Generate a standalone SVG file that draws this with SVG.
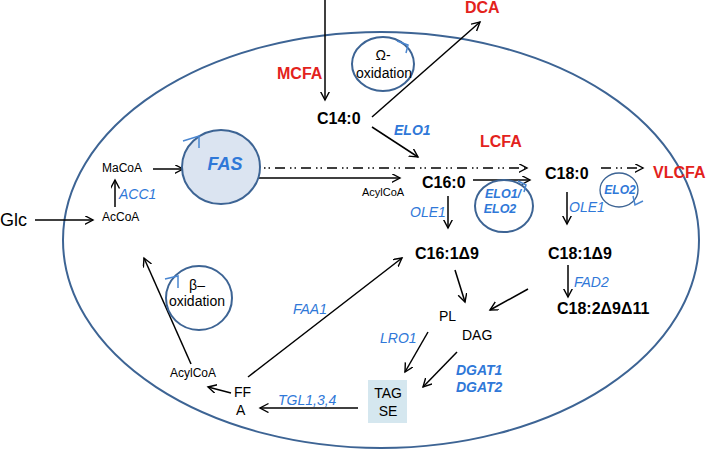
<svg xmlns="http://www.w3.org/2000/svg" width="708" height="450" viewBox="0 0 708 450">
<defs>
<marker id="ah" markerWidth="11" markerHeight="11" refX="8.5" refY="4.5" orient="auto" markerUnits="userSpaceOnUse">
<path d="M0,0 L8.5,4.5 L0,9" fill="none" stroke="#000" stroke-width="1.4"/>
</marker>
<style>
text{font-family:"Liberation Sans",Arial,sans-serif}
.c{fill:none;stroke:#000;stroke-width:1.5;marker-end:url(#ah)}
.dd{fill:none;stroke:#000;stroke-width:1.5;stroke-dasharray:10 5 1.5 3 1.5 5;marker-end:url(#ah)}
.cyc{fill:none;stroke:#3d6494;stroke-width:2}
.tick{fill:none;stroke:#4a86d0;stroke-width:1.5}
.b{font-weight:bold;font-size:16px;fill:#000}
.red{font-weight:bold;font-size:16px;fill:#e3221c}
.gi{font-style:italic;font-size:14px;fill:#2f78d8}
.gbi{font-style:italic;font-weight:bold;font-size:14px;fill:#2f78d8}
.n{font-size:12px;fill:#000}
.m{font-size:14px;fill:#000}
</style>
</defs>
<rect width="708" height="450" fill="#fff"/>
<g id="cell"><ellipse cx="381" cy="240" rx="318" ry="208" fill="none" stroke="#3d6494" stroke-width="2"/></g>

<g id="connectors">
<line class="c" x1="325" y1="0" x2="325" y2="100"/>
<line class="c" x1="372" y1="117" x2="480" y2="22"/>
<line class="c" x1="372" y1="127" x2="418" y2="157"/>
<line class="c" x1="35" y1="220" x2="93" y2="220"/>
<line class="c" x1="115" y1="207" x2="115" y2="180"/>
<line class="c" x1="153" y1="169" x2="183" y2="169"/>
<line class="dd" x1="249" y1="168" x2="527" y2="168"/>
<line class="c" x1="249" y1="178" x2="400" y2="178"/>
<line class="c" x1="473" y1="180" x2="530" y2="180"/>
<line class="dd" x1="601" y1="168" x2="643" y2="168"/>
<line class="c" x1="448" y1="196" x2="448" y2="228"/>
<line class="c" x1="567" y1="192" x2="567" y2="224"/>
<line class="c" x1="568" y1="265" x2="568" y2="297"/>
<line class="c" x1="455" y1="270" x2="465" y2="302"/>
<line class="c" x1="528" y1="289" x2="490" y2="310"/>
<line class="c" x1="428" y1="332" x2="405" y2="372"/>
<line class="c" x1="457" y1="352" x2="423" y2="387"/>
<line class="c" x1="358" y1="408" x2="260" y2="408"/>
<line class="c" x1="231" y1="393" x2="208" y2="387"/>
<line class="c" x1="248" y1="377" x2="402" y2="258"/>
<line class="c" x1="191" y1="364" x2="144" y2="258"/>
</g>

<g id="omega-oxidation">
<ellipse class="cyc" cx="383" cy="64" rx="31" ry="27"/>
<path class="tick" d="M397,41 L408,45 L406,53"/>
<text x="383" y="60" text-anchor="middle" class="m">Ω-</text>
<text x="384" y="78" text-anchor="middle" class="m">oxidation</text>
</g>
<g id="fas">
<ellipse cx="221" cy="167" rx="39" ry="37" fill="#dbe4f1" stroke="#3d6494" stroke-width="2"/>
<path class="tick" d="M183,141 L199,136 L199,148"/>
<text x="225" y="170" text-anchor="middle" font-size="18" font-weight="bold" font-style="italic" fill="#2f78d8">FAS</text>
</g>
<g id="beta-oxidation">
<ellipse class="cyc" cx="199" cy="298" rx="33" ry="32"/>
<path class="tick" d="M165,279 L178,276 L178,288"/>
<text x="197" y="290" text-anchor="middle" class="m">β–</text>
<text x="197" y="306" text-anchor="middle" class="m">oxidation</text>
</g>
<g id="elo1-elo2">
<ellipse class="cyc" cx="504" cy="206" rx="29" ry="26"/>
<path class="tick" d="M518,181 L526,185 L524,192"/>
<text x="503" y="198" text-anchor="middle" font-size="12.5" font-weight="bold" font-style="italic" fill="#2f78d8">ELO1/</text>
<text x="500" y="213" text-anchor="middle" font-size="12.5" font-weight="bold" font-style="italic" fill="#2f78d8">ELO2</text>
</g>
<g id="elo2">
<ellipse cx="619" cy="190" rx="19" ry="17" fill="none" stroke="#3d6494" stroke-width="1.3"/>
<path class="tick" d="M633,196 L635,205 L643,201"/>
<text x="620" y="194" text-anchor="middle" font-size="12" font-weight="bold" font-style="italic" fill="#2f78d8">ELO2</text>
</g>

<g id="mcfa"><text x="277" y="79" class="red">MCFA</text></g>
<g id="dca"><text x="465" y="13" class="red">DCA</text></g>
<g id="lcfa"><text x="480" y="147" class="red">LCFA</text></g>
<g id="vlcfa"><text x="653" y="178" class="red">VLCFA</text></g>
<g id="c14-0"><text x="317" y="124" class="b">C14:0</text></g>
<g id="elo1-label"><text x="394" y="135" class="gbi">ELO1</text></g>
<g id="c16-0"><text x="422" y="188" class="b">C16:0</text></g>
<g id="c18-0"><text x="545" y="179" class="b">C18:0</text></g>
<g id="acylcoa-1"><text x="362" y="196" font-size="11" fill="#000">AcylCoA</text></g>
<g id="macoa"><text x="102" y="172" class="n">MaCoA</text></g>
<g id="acc1"><text x="119" y="199" class="gi">ACC1</text></g>
<g id="accoa"><text x="102" y="221" class="n">AcCoA</text></g>
<g id="glc"><text x="0" y="226" font-size="18" fill="#000">Glc</text></g>
<g id="ole1-a"><text x="410" y="217" class="gi">OLE1</text></g>
<g id="ole1-b"><text x="569" y="212" class="gi">OLE1</text></g>
<g id="c16-1"><text x="415" y="259" class="b">C16:1Δ9</text></g>
<g id="c18-1"><text x="548" y="259" class="b">C18:1Δ9</text></g>
<g id="fad2"><text x="574" y="287" class="gi">FAD2</text></g>
<g id="c18-2"><text x="557" y="314" class="b">C18:2Δ9Δ11</text></g>
<g id="pl"><text x="439" y="321" class="m">PL</text></g>
<g id="dag"><text x="462" y="340" class="m">DAG</text></g>
<g id="lro1"><text x="380" y="343" class="gi">LRO1</text></g>
<g id="dgat"><text x="456" y="375" class="gbi">DGAT1</text><text x="456" y="392" class="gbi">DGAT2</text></g>
<g id="tag-se">
<rect x="368" y="380" width="39" height="43" fill="#d5e7ef"/>
<text x="388" y="398" text-anchor="middle" class="m">TAG</text>
<text x="388" y="416" text-anchor="middle" class="m">SE</text>
</g>
<g id="tgl"><text x="278" y="405" class="gi">TGL1,3,4</text></g>
<g id="ffa"><text x="234" y="397" class="m">FF</text><text x="236" y="415" class="m">A</text></g>
<g id="acylcoa-2"><text x="170" y="377" class="n">AcylCoA</text></g>
<g id="faa1"><text x="293" y="314" class="gi">FAA1</text></g>
</svg>
